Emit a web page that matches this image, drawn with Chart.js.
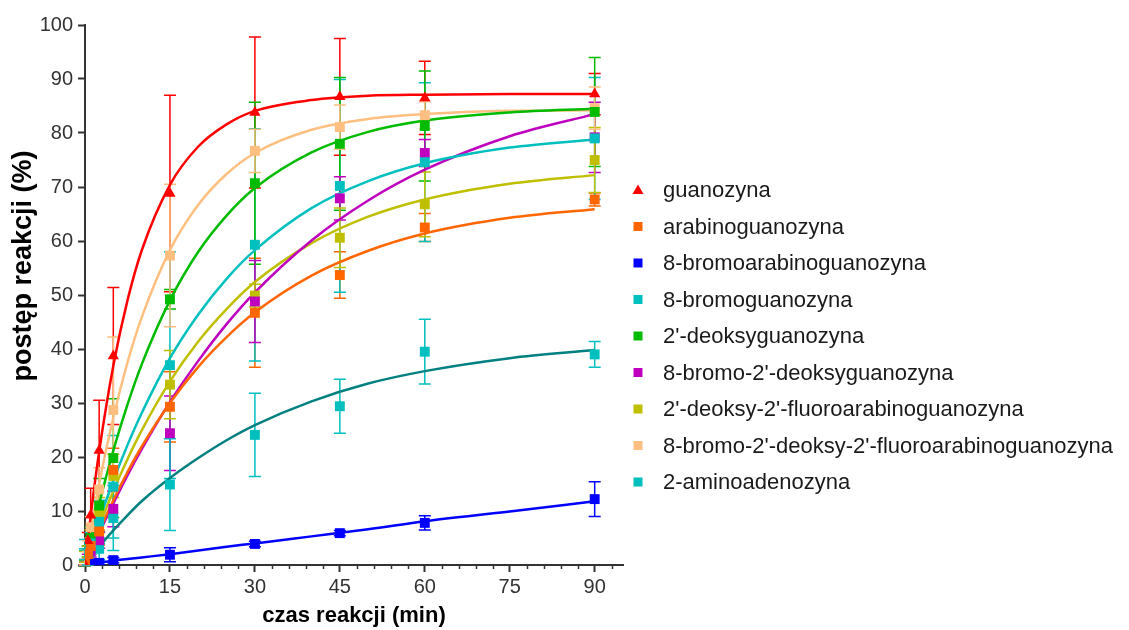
<!DOCTYPE html>
<html>
<head>
<meta charset="utf-8">
<title>Postęp reakcji nukleozydów</title>
<script src="https://cdn.jsdelivr.net/npm/chart.js@4.4.1/dist/chart.umd.min.js"></script>
<style>
  html, body { margin: 0; padding: 0; background: #ffffff; }
  #wrap { width: 1129px; height: 630px; position: relative; }
</style>
</head>
<body>
<div id="wrap"><canvas id="chart" width="1129" height="630"></canvas></div>
<script>
// Sampling times (min) of the measured points
const sampleTimes = [0, 0.5, 1, 2.5, 5, 15, 30, 45, 60, 90];

// Measured reaction progress (%) and their standard deviations
const guanozyna        = [0, 4.5, 9.2, 21.2, 38.7, 68.8, 83.8, 86.7, 86.5, 87.2];
const guanozynaErr     = [0, 1.5, 5.0, 9.3, 12.7, 18.2, 14.0, 10.8, 6.8, 3.8];
const arabino          = [0.5, 2.0, 3.5, 6.2, 17.6, 29.3, 46.7, 53.7, 62.5, 67.7];
const arabinoErr       = [0.5, 1.0, 1.5, 2.5, 4.0, 6.5, 10.1, 4.3, 2.6, 1.2];
const bromoArabino     = [0, 0.1, 0.3, 0.4, 0.9, 1.9, 3.9, 5.9, 7.8, 12.2];
const bromoArabinoErr  = [0, 0, 0.2, 0.3, 0.5, 1.3, 0.5, 0.5, 1.3, 3.2];
const bromoGuano       = [3.7, 2.5, 4.0, 8.0, 14.5, 37.0, 59.3, 70.2, 74.6, 79.0];
const bromoGuanoErr    = [1.0, 1.0, 2.0, 4.0, 9.5, 21.0, 21.5, 19.7, 14.7, 11.3];
const deoksyGuano      = [0.3, 2.5, 5.0, 11.0, 19.8, 49.2, 70.7, 78.0, 81.3, 83.9];
const deoksyGuanoErr   = [0.5, 1.0, 2.0, 5.0, 11.0, 1.8, 15.0, 12.3, 10.2, 10.1];
const bromoDeoksy      = [0.2, 1.5, 2.5, 4.6, 10.4, 24.4, 48.8, 67.9, 76.3, 79.2];
const bromoDeoksyErr   = [0.3, 0.5, 1.0, 1.5, 3.3, 6.9, 7.6, 4.0, 2.5, 6.5];
const fluoroArabino    = [1.5, 2.5, 4.5, 9.5, 16.5, 33.4, 49.9, 60.6, 66.8, 75.0];
const fluoroArabinoErr = [1.0, 1.0, 2.0, 3.0, 4.0, 6.3, 2.1, 5.5, 6.0, 6.0];
const bromoFluoro      = [0.5, 3.5, 7.0, 14.0, 28.7, 57.3, 76.7, 81.1, 83.3, 84.6];
const bromoFluoroErr   = [0.5, 1.0, 2.0, 4.0, 13.5, 13.2, 4.0, 4.1, 2.5, 3.9];
const aminoAdeno       = [2.0, 1.5, 2.5, 3.0, 8.7, 14.9, 24.1, 29.4, 39.5, 39.0];
const aminoAdenoErr    = [1.0, 1.5, 1.5, 2.0, 6.0, 8.5, 7.7, 5.0, 6.0, 2.4];

// Fitted kinetic curves, read at these times (min)
const fitTimes            = [0, 1, 2.5, 5, 7.5, 10, 15, 20, 25, 30, 40, 50, 60, 75, 90];
const guanozynaFit        = [0, 9.1, 21.0, 36.9, 49.0, 58.2, 70.4, 77.5, 81.6, 84.1, 86.1, 86.9, 87.1, 87.2, 87.2];
const arabinoFit          = [0, 2.6, 6.3, 12.0, 17.2, 21.9, 30.0, 36.7, 42.2, 46.8, 53.6, 58.2, 61.4, 64.3, 65.9];
const bromoArabinoFit     = [null, 0.2, 0.4, 0.8, 1.1, 1.4, 2.0, 2.7, 3.4, 4.0, 5.3, 6.6, 8.1, 9.9, 11.8];
const bromoGuanoFit       = [0, 3.4, 8.2, 15.6, 22.2, 28.1, 38.3, 46.4, 53.0, 58.3, 66.1, 71.1, 74.4, 77.3, 78.8];
const deoksyGuanoFit      = [0, 4.7, 11.3, 21.2, 29.7, 37.1, 49.0, 58.0, 64.7, 69.8, 76.4, 80.2, 82.3, 83.8, 84.5];
const bromoDeoksyFit      = [0, 2.4, 5.9, 11.4, 16.6, 21.4, 30.2, 37.8, 44.6, 50.5, 60.1, 67.5, 73.2, 79.4, 83.5];
const fluoroArabinoFit    = [0, 3.0, 7.2, 13.7, 19.6, 24.9, 34.0, 41.4, 47.4, 52.4, 59.6, 64.5, 67.7, 70.6, 72.2];
const bromoFluoroFit      = [0, 6.4, 15.0, 27.3, 37.5, 45.8, 58.3, 66.7, 72.4, 76.3, 80.6, 82.6, 83.5, 84.1, 84.2];
const aminoAdenoFit       = [null, null, 3.4, 6.4, 9.2, 11.8, 16.1, 19.8, 23.1, 25.9, 30.3, 33.6, 35.9, 38.3, 39.8];

// Series names
const seriesNames = [
  'guanozyna',
  'arabinoguanozyna',
  '8-bromoarabinoguanozyna',
  '8-bromoguanozyna',
  "2'-deoksyguanozyna",
  "8-bromo-2'-deoksyguanozyna",
  "2'-deoksy-2'-fluoroarabinoguanozyna",
  "8-bromo-2'-deoksy-2'-fluoroarabinoguanozyna",
  '2-aminoadenozyna'
];

// Axis ticks and titles
const xMajorTicks = [0, 15, 30, 45, 60, 75, 90];
const xMinorStep = 3;
const yTicks = [0, 10, 20, 30, 40, 50, 60, 70, 80, 90, 100];
const xTitle = 'czas reakcji (min)';
const yTitle = 'postęp reakcji (%)';

const FONT = '"Liberation Sans", Arial, Helvetica, sans-serif';
Chart.defaults.font.family = FONT;

const markerColors = ['#ff0000', '#ff6600', '#0000ff', '#00bfbf', '#00bb00', '#bf00bf', '#bfbf00', '#ffbf80', '#00bfbf'];
const curveColors  = ['#ff0000', '#ff6600', '#0000ff', '#00bfbf', '#00bb00', '#bf00bf', '#bfbf00', '#ffbf80', '#008080'];
const pointStyles  = ['triangle', 'rect', 'rect', 'rect', 'rect', 'rect', 'rect', 'rect', 'rect'];

const measured = [guanozyna, arabino, bromoArabino, bromoGuano, deoksyGuano, bromoDeoksy, fluoroArabino, bromoFluoro, aminoAdeno];
const measuredErr = [guanozynaErr, arabinoErr, bromoArabinoErr, bromoGuanoErr, deoksyGuanoErr, bromoDeoksyErr, fluoroArabinoErr, bromoFluoroErr, aminoAdenoErr];
const fitted = [guanozynaFit, arabinoFit, bromoArabinoFit, bromoGuanoFit, deoksyGuanoFit, bromoDeoksyFit, fluoroArabinoFit, bromoFluoroFit, aminoAdenoFit];

const toXY = (xs, ys) => xs.map((x, i) => ({ x: x, y: ys[i] })).filter(p => p.y !== null);

const datasets = [];
// fitted curves, drawn under the markers
fitted.forEach((ys, i) => {
  datasets.push({
    label: seriesNames[i] + ' (dopasowanie)',
    data: toXY(fitTimes, ys),
    showLine: true,
    borderColor: curveColors[i],
    backgroundColor: curveColors[i],
    borderWidth: 2.5,
    pointRadius: 0,
    cubicInterpolationMode: 'monotone',
    fill: false,
    order: 2
  });
});
// measured points with error bars
measured.forEach((ys, i) => {
  datasets.push({
    label: seriesNames[i],
    data: toXY(sampleTimes, ys),
    errors: measuredErr[i],
    inLegend: true,
    showLine: false,
    pointStyle: pointStyles[i],
    pointRadius: pointStyles[i] === 'triangle' ? 6.5 : 7,
    pointBorderWidth: 0,
    pointBackgroundColor: markerColors[i],
    borderColor: markerColors[i],
    backgroundColor: markerColors[i],
    order: 1
  });
});

// Vertical error bars with caps
const errorBars = {
  id: 'errorBars',
  beforeDatasetsDraw(chart) {
    const { ctx, scales: { x, y } } = chart;
    ctx.save();
    ctx.lineWidth = 1.5;
    chart.data.datasets.forEach(ds => {
      if (!ds.errors) return;
      ctx.strokeStyle = ds.backgroundColor;
      ds.data.forEach((p, i) => {
        const e = ds.errors[i];
        if (!e) return;
        const px = x.getPixelForValue(p.x);
        const top = y.getPixelForValue(p.y + e);
        const bot = y.getPixelForValue(p.y - e);
        ctx.beginPath();
        ctx.moveTo(px, top); ctx.lineTo(px, bot);
        ctx.moveTo(px - 6, top); ctx.lineTo(px + 6, top);
        ctx.moveTo(px - 6, bot); ctx.lineTo(px + 6, bot);
        ctx.stroke();
      });
    });
    ctx.restore();
  }
};

// Short minor ticks on the time axis
const minorTicks = {
  id: 'minorTicks',
  afterDraw(chart) {
    const { ctx, scales: { x }, chartArea } = chart;
    ctx.save();
    ctx.strokeStyle = '#333333';
    ctx.lineWidth = 1.5;
    for (let v = x.min; v <= x.max; v += xMinorStep) {
      if (xMajorTicks.includes(v)) continue;
      const px = Math.round(x.getPixelForValue(v)) + 0.5;
      ctx.beginPath();
      ctx.moveTo(px, chartArea.bottom);
      ctx.lineTo(px, chartArea.bottom + 4);
      ctx.stroke();
    }
    ctx.restore();
  }
};

// Rotated title of the value axis, placed a little above the plot centre
const valueAxisTitle = {
  id: 'valueAxisTitle',
  afterDraw(chart, args, opts) {
    const { ctx } = chart;
    ctx.save();
    ctx.translate(opts.x, opts.y);
    ctx.rotate(-Math.PI / 2);
    ctx.font = 'bold ' + opts.fontSize + 'px ' + FONT;
    ctx.fillStyle = '#000000';
    ctx.textAlign = 'center';
    ctx.textBaseline = 'middle';
    ctx.fillText(opts.text, 0, 0);
    ctx.restore();
  }
};

// Legend column to the right of the plot
const sideLegend = {
  id: 'sideLegend',
  afterDraw(chart, args, opts) {
    const { ctx } = chart;
    const items = chart.data.datasets.filter(d => d.inLegend);
    ctx.save();
    ctx.font = opts.fontSize + 'px ' + FONT;
    ctx.textBaseline = 'middle';
    ctx.textAlign = 'left';
    items.forEach((d, i) => {
      const cy = opts.top + i * opts.step;
      const mx = opts.markerX;
      ctx.fillStyle = d.backgroundColor;
      if (d.pointStyle === 'triangle') {
        ctx.beginPath();
        ctx.moveTo(mx, cy - 5.5);
        ctx.lineTo(mx + 5.5, cy + 4);
        ctx.lineTo(mx - 5.5, cy + 4);
        ctx.closePath();
        ctx.fill();
      } else {
        ctx.fillRect(mx - 4.5, cy - 4.5, 9, 9);
      }
      ctx.fillStyle = '#1a1a1a';
      ctx.fillText(d.label, opts.textX, cy + 1);
    });
    ctx.restore();
  }
};

new Chart(document.getElementById('chart'), {
  type: 'scatter',
  data: { datasets: datasets },
  options: {
    responsive: false,
    animation: false,
    devicePixelRatio: 1,
    layout: { padding: { left: 0, right: 506, top: 25, bottom: 0 } },
    plugins: {
      legend: { display: false },
      tooltip: { enabled: false },
      sideLegend: { markerX: 638, textX: 663, top: 190, step: 36.5, fontSize: 22 },
      valueAxisTitle: { text: yTitle, x: 24, y: 266, fontSize: 27 }
    },
    scales: {
      x: {
        type: 'linear',
        position: 'bottom',
        min: 0,
        max: 95,
        afterBuildTicks: s => { s.ticks = xMajorTicks.map(v => ({ value: v })); },
        afterFit: s => { s.height = 65; },
        ticks: { font: { size: 20 }, color: '#333333', padding: 3, maxRotation: 0, autoSkip: false },
        grid: { drawOnChartArea: false, tickLength: 7, tickWidth: 2, tickColor: '#333333' },
        border: { color: '#333333', width: 2 },
        title: {
          display: true,
          text: xTitle,
          color: '#000000',
          font: { size: 22, weight: 'bold' },
          padding: { top: 0, bottom: 1 }
        }
      },
      y: {
        type: 'linear',
        min: 0,
        max: 100,
        afterBuildTicks: s => { s.ticks = yTicks.map(v => ({ value: v })); },
        afterFit: s => { s.width = 85; },
        ticks: { font: { size: 20 }, color: '#333333', padding: 5 },
        grid: { drawOnChartArea: false, tickLength: 7, tickWidth: 2, tickColor: '#333333' },
        border: { color: '#333333', width: 2 },
        title: { display: false }
      }
    }
  },
  plugins: [errorBars, minorTicks, valueAxisTitle, sideLegend]
});
</script>
</body>
</html>
